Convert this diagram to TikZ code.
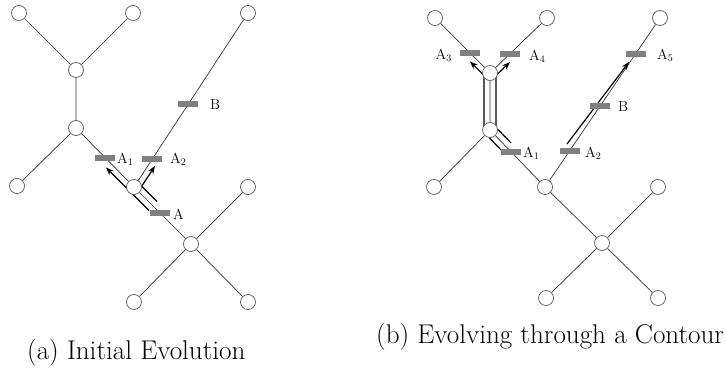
\documentclass[tikz,border=0pt]{standalone}
\usetikzlibrary{arrows.meta}
\pgfdeclarelayer{bg}
\pgfsetlayers{bg,main}
\begin{document}
\begin{tikzpicture}[x=1pt,y=-1pt,
  vtx/.style={circle,draw=black!65,fill=white,line width=0.7pt,minimum size=15pt,inner sep=0pt},
  edge/.style={draw=black!80,line width=0.7pt},
  bar/.style={rectangle,fill=black!50,minimum width=20pt,minimum height=6pt,inner sep=0pt},
  lab/.style={font=\fontsize{14.5}{16}\selectfont,inner sep=0pt},
  arr/.style={draw=black,line width=1.2pt,-{Stealth[length=8pt,width=6pt]}},
  trail/.style={draw=black,line width=1.2pt},
  captext/.style={font=\fontsize{27.1}{32}\selectfont,inner sep=0pt,anchor=base west}]
\useasboundingbox (0,0) rectangle (725,369);

% ---------- (a) nodes
\node[vtx] (aTL) at (19,13) {};
\node[vtx] (aTR) at (133,13) {};
\node[vtx] (aY) at (76,70) {};
\node[vtx] (aJ) at (76,128) {};
\node[vtx] (aL) at (17,186) {};
\node[vtx] (aC) at (134,187) {};
\node[vtx] (aX) at (191,244) {};
\node[vtx] (aXTR) at (248,187) {};
\node[vtx] (aXBL) at (134,302) {};
\node[vtx] (aXBR) at (248,302) {};
\node[vtx] (aRT) at (248,13) {};

% ---------- (b) nodes
\node[vtx] (bTL) at (435,18) {};
\node[vtx] (bTR) at (547,18) {};
\node[vtx] (bY) at (490,73) {};
\node[vtx] (bJ) at (490,130) {};
\node[vtx] (bL) at (434,187) {};
\node[vtx] (bC) at (545,187) {};
\node[vtx] (bX) at (602,243) {};
\node[vtx] (bXTR) at (658,187) {};
\node[vtx] (bXBL) at (546,298) {};
\node[vtx] (bXBR) at (658,298) {};
\node[vtx] (bRT) at (660,18) {};

\begin{pgfonlayer}{bg}
% edges (a)
\draw[edge] (aTL)--(aY) (aTR)--(aY) (aY)--(aJ) (aJ)--(aL) (aJ)--(aC)
  (aC)--(aX) (aC)--(aRT) (aX)--(aXTR) (aX)--(aXBL) (aX)--(aXBR);
% edges (b)
\draw[edge] (bTL)--(bY) (bTR)--(bY) (bY)--(bJ) (bJ)--(bL) (bJ)--(bC)
  (bC)--(bX) (bC)--(bRT) (bX)--(bXTR) (bX)--(bXBL) (bX)--(bXBR);

% arrows (a)
\coordinate (p1s) at (149,210.5);
\coordinate (p1e) at (106,167.5);
\coordinate (p2s) at (157,201.5);
\coordinate (p2m) at (141.7,186.2);
\coordinate (p2e) at (155,166);
\draw[arr] (p1s) -- (p1e);
\draw[arr] (p2s) -- (p2m) -- (p2e);

% arrows (b)
\coordinate (q3s) at (484,128);
\coordinate (q3m) at (484,75.4);
\coordinate (q3e) at (470,61.4);
\coordinate (q4s) at (496,128);
\coordinate (q4m) at (496,75.5);
\coordinate (q4e) at (510,62);
\draw[arr] (q3s) -- (q3m) -- (q3e);
\draw[arr] (q4s) -- (q4m) -- (q4e);
\coordinate (t1s) at (498,129.5);
\coordinate (t1e) at (511,142.9);
\coordinate (t2s) at (489.5,138);
\coordinate (t2e) at (501,149.9);
\draw[trail] (t1s) -- (t1e);
\draw[trail] (t2s) -- (t2e);
\coordinate (q5s) at (567,144);
\coordinate (q5e) at (629,62);
\draw[arr] (q5s) -- (q5e);
\end{pgfonlayer}

% markers (a)
\path (aJ.center) -- (aC.center) node[bar,pos=0.5] (mA1a) {};
\path (aC.center) -- (aRT.center) node[bar,pos=0.161] (mA2a) {};
\path (aC.center) -- (aRT.center) node[bar,pos=0.477] (mBa) {};
\path (aC.center) -- (aX.center) node[bar,pos=0.46] (mAa) {};
% markers (b)
\path (bY.center) -- (bTL.center) node[bar,pos=0.36] (mA3b) {};
\path (bY.center) -- (bTR.center) node[bar,pos=0.35] (mA4b) {};
\path (bJ.center) -- (bC.center) node[bar,pos=0.39] (mA1b) {};
\path (bC.center) -- (bRT.center) node[bar,pos=0.213] (mA2b) {};
\path (bC.center) -- (bRT.center) node[bar,pos=0.479] (mBb) {};
\path (bC.center) -- (bRT.center) node[bar,pos=0.787] (mA5b) {};

% labels (a)
\node[lab,anchor=west] (lA1a) at (117,159) {A$_1$};
\node[lab,anchor=west] (lA2a) at (170,159) {A$_2$};
\node[lab,anchor=west] (lAa) at (173,214) {A};
\node[lab,anchor=west] (lBa) at (210,105) {B};
% labels (b)
\node[lab,anchor=east] (lA3b) at (452,55) {A$_3$};
\node[lab,anchor=west] (lA4b) at (529,56) {A$_4$};
\node[lab,anchor=west] (lA5b) at (657,55) {A$_5$};
\node[lab,anchor=west] (lBb) at (618,107) {B};
\node[lab,anchor=west] (lA1b) at (523,153) {A$_1$};
\node[lab,anchor=west] (lA2b) at (585,153) {A$_2$};

% captions
\node[captext] (capA) at (27,359) {(a) Initial Evolution};
\node[captext] (capB) at (376,343) {(b) Evolving through a Contour};
\end{tikzpicture}
\end{document}
